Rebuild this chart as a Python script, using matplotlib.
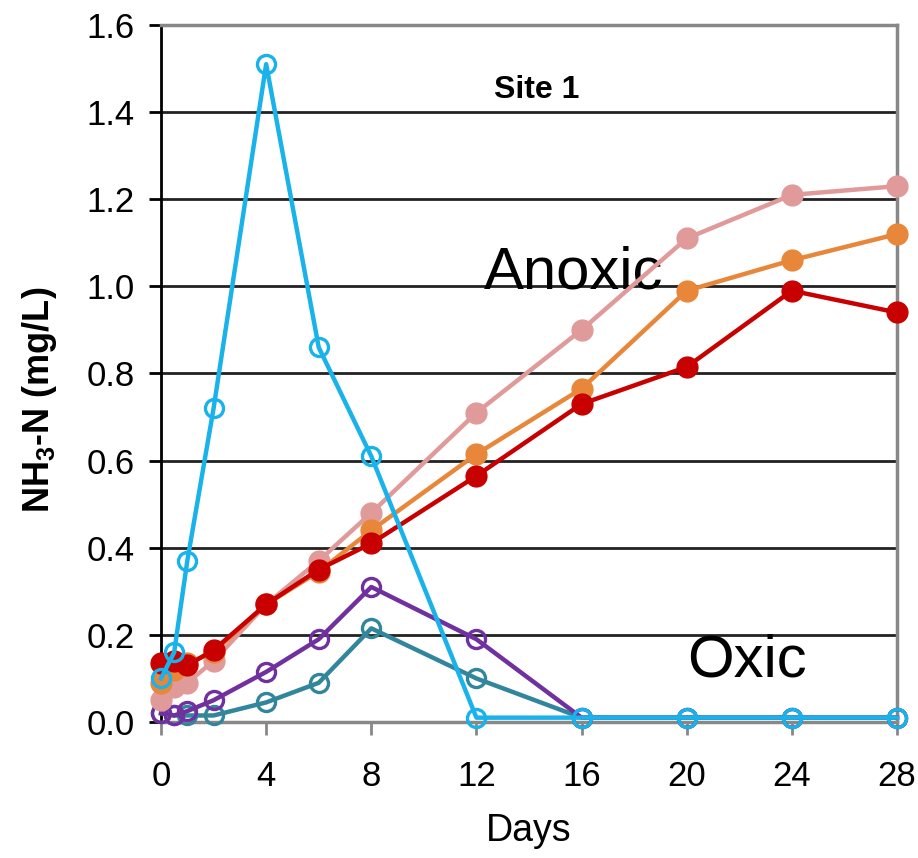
import matplotlib
matplotlib.use("Agg")
import matplotlib.pyplot as plt

plt.rcParams['font.family'] = ['Liberation Sans', 'DejaVu Sans']

# Sampling days
days = [0, 0.5, 1, 2, 4, 6, 8, 12, 16, 20, 24, 28]

# NH3-N (mg/L) per treatment
cyan = [0.10, 0.16, 0.37, 0.72, 1.51, 0.86, 0.61, 0.01, 0.01, 0.01, 0.01, 0.01]
pink = [0.05, 0.08, 0.09, 0.14, 0.27, 0.37, 0.48, 0.71, 0.90, 1.11, 1.21, 1.23]
orange = [0.09, 0.12, 0.135, 0.16, 0.27, 0.345, 0.44, 0.615, 0.765, 0.99, 1.06, 1.12]
red = [0.135, 0.14, 0.13, 0.165, 0.27, 0.35, 0.41, 0.565, 0.73, 0.815, 0.99, 0.94]
purple = [0.02, 0.015, 0.025, 0.05, 0.115, 0.19, 0.31, 0.19, 0.01, 0.01, 0.01, 0.01]
teal = [0.02, 0.015, 0.015, 0.015, 0.045, 0.09, 0.215, 0.10, 0.01, 0.01, 0.01, 0.01]

fig = plt.figure(figsize=(9.18, 8.58), dpi=100)
ax = fig.add_axes([0.1754, 0.1585, 0.8017, 0.8124])

# Oxic series (open circles)
for vals, col in [(teal, '#31869b'), (purple, '#7030a0')]:
    ax.plot(days, vals, color=col, lw=3.2, marker='o', ms=13, mfc='none',
            mec=col, mew=2.4, clip_on=False, zorder=3)

# Anoxic series (filled circles)
for vals, col in [(pink, '#e09a9a'), (orange, '#e8873a'), (red, '#c80000')]:
    ax.plot(days, vals, color=col, lw=3.2, marker='o', ms=15, mfc=col,
            mec=col, clip_on=False, zorder=4)

ax.plot(days, cyan, color='#1ab2ea', lw=3.2, marker='o', ms=13, mfc='none',
        mec='#1ab2ea', mew=2.4, clip_on=False, zorder=5)

ax.set_xlim(0, 28)
ax.set_ylim(0, 1.6)
ax.set_xticks([0, 4, 8, 12, 16, 20, 24, 28])
ax.set_yticks([0.0, 0.2, 0.4, 0.6, 0.8, 1.0, 1.2, 1.4, 1.6])
ax.set_yticklabels([f"{v:.1f}" for v in ax.get_yticks()])
ax.yaxis.grid(True, color='#222222', lw=2)
ax.set_axisbelow(True)

for side in ['top', 'right', 'bottom']:
    ax.spines[side].set_color('#888888')
    ax.spines[side].set_linewidth(2.5)
ax.spines['left'].set_color('black')
ax.spines['left'].set_linewidth(2)

ax.tick_params(axis='y', length=9, width=2, color='black', labelsize=25, pad=10)
ax.tick_params(axis='x', length=9, width=2, color='#888888', labelsize=25, pad=18)

ax.set_xlabel("Days", fontsize=27)
ax.xaxis.set_label_coords(0.5, -0.13)
ax.set_ylabel(r"NH$_{\mathregular{3}}$-N (mg/L)", fontsize=26, fontweight='bold')
ax.yaxis.set_label_coords(-0.138, 0.462)

ax.text(14.3, 1.45, "Site 1", fontsize=23, fontweight='bold', ha='center', va='center')
ax.text(15.7, 1.03, "Anoxic", fontsize=43, ha='center', va='center')
ax.text(22.3, 0.14, "Oxic", fontsize=43, ha='center', va='center')

fig.savefig("out.png", dpi=100)
